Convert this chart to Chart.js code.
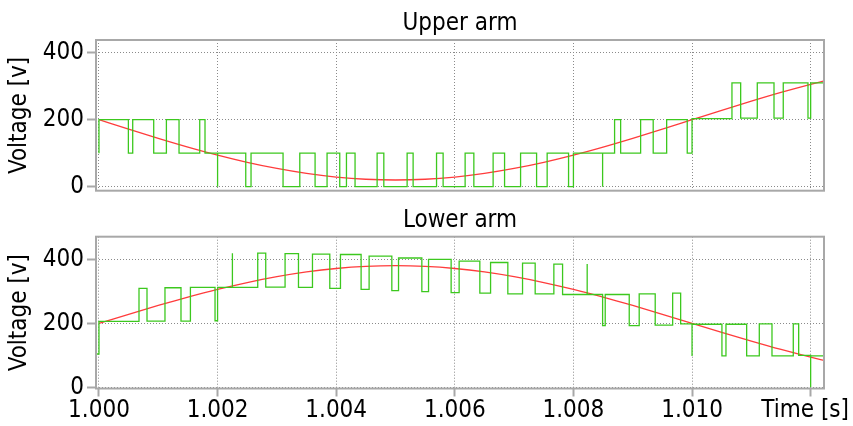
<!DOCTYPE html>
<html>
<head>
<meta charset="utf-8">
<script src="https://cdn.jsdelivr.net/npm/chart.js@4/dist/chart.umd.min.js"></script>
<style>
  html, body { margin: 0; padding: 0; background: #fff; }
  #wrap { position: relative; width: 853px; height: 426px; overflow: hidden; }
  .box { position: absolute; left: 0; width: 853px; }
  #b1 { top: 0; height: 210px; }
  #b2 { top: 196px; height: 230px; }
</style>
</head>
<body>
<div id="wrap">
  <div class="box" id="b1"><canvas id="c1" width="853" height="210"></canvas></div>
  <div class="box" id="b2"><canvas id="c2" width="853" height="230"></canvas></div>
</div>
<script>
// ---- titles / tick labels ----
const panelTitles = ['Upper arm', 'Lower arm'];
const yAxisTitle = 'Voltage [v]';
const xAxisTitle = 'Time [s]';
const xTicks = [1.000, 1.002, 1.004, 1.006, 1.008, 1.010, 1.012];
const xTickLabels = ['1.000', '1.002', '1.004', '1.006', '1.008', '1.010', ''];
const yTicks = [0, 200, 400];

// ---- Upper arm: green multilevel output (value holds from its time on) ----
const upperGreenT = [1.0, 1.0, 1.000496, 1.000569, 1.000923, 1.001137, 1.001350, 1.001699, 1.001788, 1.002, 1.002,
  1.002475, 1.002564, 1.003104, 1.003386, 1.003644, 1.003846, 1.004060, 1.004173, 1.004318, 1.004690, 1.004803,
  1.005196, 1.005297, 1.005692, 1.005803, 1.006174, 1.006321, 1.006646, 1.006839, 1.007109, 1.007379,
  1.007557, 1.007918, 1.008, 1.008492, 1.008492, 1.008694, 1.008796, 1.009133, 1.009345, 1.009572,
  1.009919, 1.010, 1.010673, 1.010820, 1.011100, 1.011382, 1.011538, 1.011955, 1.012, 1.01222];
const upperGreenV = [100, 200, 100, 200, 100, 200, 100, 200, 100, 0, 100,
  0, 100, 0, 100, 0, 100, 0, 100, 0, 100, 0,
  100, 0, 100, 0, 100, 0, 100, 0, 100, 0,
  100, 0, 100, 0, 100, 200, 100, 200, 100, 200,
  100, 203, 310, 205, 310, 205, 310, 205, 310, 418];

// ---- Upper arm: red reference ----
const upperRefT = [1.0, 1.0005, 1.001, 1.0015, 1.002, 1.0025, 1.003, 1.0035, 1.004, 1.0045, 1.005, 1.0055, 1.006,
  1.0065, 1.007, 1.0075, 1.008, 1.0085, 1.009, 1.0095, 1.010, 1.0105, 1.011, 1.0115, 1.012, 1.01225];
const upperRefV = [200, 171.8, 144.4, 118.3, 94.2, 72.7, 54.4, 39.6, 28.8, 22.2, 20, 22.2, 28.8,
  39.6, 54.4, 72.7, 94.2, 118.3, 144.4, 171.8, 200, 228.2, 255.6, 281.7, 305.8, 317];

// ---- Lower arm: green multilevel output ----
const lowerGreenT = [0.99996, 1.0, 1.000675, 1.000810, 1.001113, 1.001383, 1.001542, 1.001957, 1.002, 1.002250, 1.002250,
  1.002677, 1.002812, 1.003138, 1.003364, 1.003600, 1.003892, 1.004072, 1.004420, 1.004555, 1.004938,
  1.005051, 1.005444, 1.005557, 1.005938, 1.006073, 1.006422, 1.006603, 1.006894, 1.007142, 1.007355,
  1.007670, 1.007817, 1.008232, 1.008232, 1.008492, 1.008536, 1.008941, 1.009109, 1.009379, 1.009673,
  1.009808, 1.010, 1.010, 1.010504, 1.010572, 1.010921, 1.011134, 1.011348, 1.011707, 1.011798,
  1.012, 1.012, 1.01222];
const lowerGreenV = [104, 206, 309, 207, 311, 207, 312, 208, 312, 419, 312,
  419, 313, 418, 312, 416, 309, 415, 306, 410, 302,
  404, 299, 400, 296, 394, 294, 390, 292, 388, 292,
  385, 290, 385, 290, 193, 290, 193, 292, 194, 294,
  198, 98, 197, 98, 197, 98, 198, 98, 198, 100,
  0, 98, 98];

// ---- Lower arm: red reference ----
const lowerRefT = upperRefT.slice();
const lowerRefV = [200, 228.2, 255.6, 281.7, 305.8, 327.3, 345.6, 360.4, 371.2, 377.8, 380, 377.8, 371.2,
  360.4, 345.6, 327.3, 305.8, 281.7, 255.6, 228.2, 200, 171.8, 144.4, 118.3, 94.2, 83];

const toPts = (t, v) => t.map((x, i) => ({ x: x, y: v[i] }));

Chart.defaults.font.family = "'DejaVu Sans Condensed', 'DejaVu Sans', sans-serif";
Chart.defaults.font.size = 24;
Chart.defaults.color = '#000';
Chart.defaults.animation = false;

const GRID = '#8a8a8a';
const FRAME = '#a8a8a8';
const GREEN = '#3cc81e';
const RED = '#ff3c3c';

function framePlugin(title, titleBaseline, showTime) {
  return {
    id: 'frame',
    afterDraw(chart) {
      const a = chart.chartArea, ctx = chart.ctx;
      ctx.save();
      ctx.strokeStyle = FRAME;
      ctx.lineWidth = 2;
      ctx.strokeRect(a.left, a.top, a.right - a.left, a.bottom - a.top);
      ctx.fillStyle = '#000';
      ctx.font = "24px 'DejaVu Sans Condensed', 'DejaVu Sans', sans-serif";
      ctx.textAlign = 'center';
      ctx.textBaseline = 'alphabetic';
      ctx.fillText(title, (a.left + a.right) / 2, titleBaseline);
      if (showTime) {
        ctx.textAlign = 'right';
        ctx.fillText(xAxisTitle, 849, 221);
      }
      ctx.restore();
    }
  };
}

function makeChart(id, greenPts, redPts, yMin, yMax, opts) {
  return new Chart(document.getElementById(id), {
    type: 'line',
    data: {
      datasets: [
        { data: greenPts, borderColor: GREEN, borderWidth: 1.3, pointRadius: 0, stepped: true, fill: false },
        { data: redPts, borderColor: RED, borderWidth: 1.3, pointRadius: 0, cubicInterpolationMode: 'monotone', fill: false }
      ]
    },
    options: {
      responsive: false,
      maintainAspectRatio: false,
      animation: false,
      events: [],
      layout: { padding: { top: opts.top, right: 29, left: 0, bottom: 0 } },
      plugins: { legend: { display: false }, title: { display: false }, tooltip: { enabled: false } },
      scales: {
        x: {
          type: 'linear',
          min: 0.99995,
          max: 1.012225,
          afterBuildTicks: (s) => { s.ticks = xTicks.map(v => ({ value: v })); },
          afterFit: (s) => { s.height = opts.xHeight; },
          ticks: {
            display: opts.showX,
            padding: 0,
            maxRotation: 0,
            autoSkip: false,
            callback: (v, i) => xTickLabels[i]
          },
          grid: { color: GRID, lineWidth: 1, drawTicks: opts.showX, tickLength: 8, tickColor: FRAME, tickWidth: 2 },
          border: { display: false, dash: [1, 2] }
        },
        y: {
          min: yMin,
          max: yMax,
          afterBuildTicks: (s) => { s.ticks = yTicks.map(v => ({ value: v })); },
          afterFit: (s) => { s.width = 96; },
          ticks: { padding: 3, autoSkip: false },
          grid: { color: GRID, lineWidth: 1, drawTicks: true, tickLength: 9, tickColor: FRAME, tickWidth: 2 },
          border: { display: false, dash: [1, 2] },
          title: { display: true, text: yAxisTitle, padding: { top: 5, bottom: 0 }, font: { size: 24 } }
        }
      }
    },
    plugins: [framePlugin(opts.title, opts.titleBaseline, opts.showX)]
  });
}

makeChart('c1', toPts(upperGreenT, upperGreenV), toPts(upperRefT, upperRefV), -12, 438,
  { top: 40, xHeight: 19.3, showX: false, title: panelTitles[0], titleBaseline: 30 });
makeChart('c2', toPts(lowerGreenT, lowerGreenV), toPts(lowerRefT, lowerRefV), -3.8, 470.6,
  { top: 40.7, xHeight: 37.5, showX: true, title: panelTitles[1], titleBaseline: 30.5 });
</script>
</body>
</html>
